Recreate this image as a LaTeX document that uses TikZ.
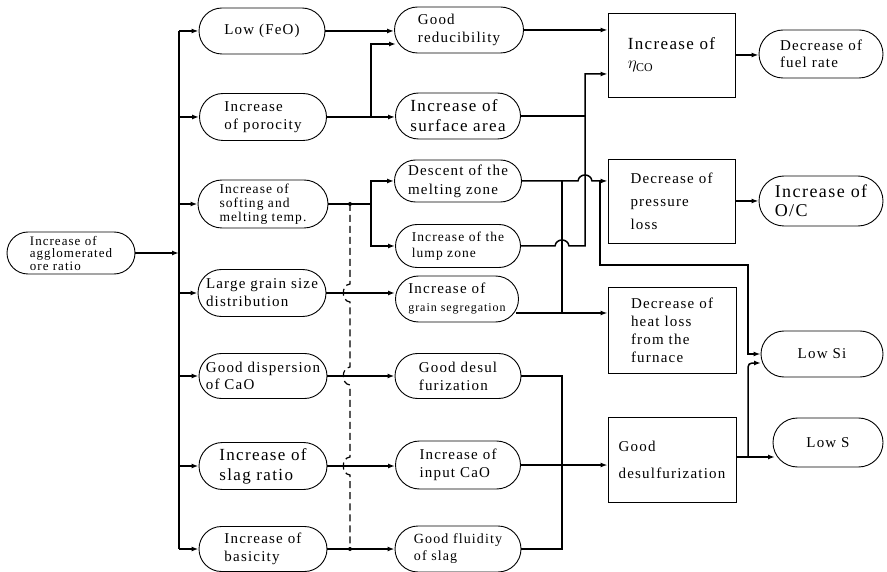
\documentclass[tikz,border=0pt]{standalone}
\usepackage{fontspec}
\setmainfont{Liberation Serif}[LetterSpace=8]
\usetikzlibrary{shapes.misc,arrows.meta}

\begin{document}
\begin{tikzpicture}[x=1pt,y=-1pt,
	pill/.style={draw,rounded rectangle,line width=0.9pt,align=left,inner sep=2pt},
	box/.style={draw,rectangle,line width=0.9pt,align=left,inner sep=2pt},
	link/.style={line width=1.5pt},
	arr/.style={link,-{Latex[length=7pt,width=5pt]}},
	bus/.style={line width=2.4pt},
	txtS/.style={font=\fontsize{13}{12.5}\selectfont},
	txtM/.style={font=\fontsize{15}{18}\selectfont},
	txtL/.style={font=\fontsize{17}{20}\selectfont}]
			\useasboundingbox (0,0) rectangle (887,572);
			\node[pill,txtS,minimum width=132pt,minimum height=42pt] (A) at (71,253) {Increase of\\agglomerated\\ore ratio};
			\node[pill,txtM,minimum width=130pt,minimum height=46pt] (B1) at (262,31) {Low (FeO)};
			\node[pill,txtM,minimum width=131pt,minimum height=47pt] (B2) at (263,117) {Increase\\of porocity};
			\node[pill,font=\fontsize{13.5}{14}\selectfont,minimum width=134pt,minimum height=48pt] (B3) at (263,204) {Increase of\\softing and\\melting temp.};
			\node[pill,txtM,minimum width=132pt,minimum height=47pt] (B4) at (262,293) {Large grain size\\distribution};
			\node[pill,font=\fontsize{15}{17}\selectfont,minimum width=132pt,minimum height=45pt] (B5) at (263,376) {Good dispersion\\of CaO};
			\node[pill,txtL,minimum width=132pt,minimum height=47pt] (B6) at (263,466) {Increase of\\slag ratio};
			\node[pill,txtM,minimum width=132pt,minimum height=45pt] (B7) at (263,549) {Increase of\\basicity};
			\node[pill,txtM,minimum width=133pt,minimum height=46pt] (C1) at (459,30) {Good\\reducibility};
			\node[pill,txtL,minimum width=129pt,minimum height=46pt] (C2) at (458,116) {Increase of\\surface area};
			\node[pill,font=\fontsize{15}{19}\selectfont,minimum width=131pt,minimum height=42pt] (C3) at (458,181) {Descent of the\\melting zone};
			\node[pill,font=\fontsize{13.5}{16}\selectfont,minimum width=129pt,minimum height=43pt] (C4) at (458,246) {Increase of the\\lump zone};
			\node[pill,font=\fontsize{12}{18}\selectfont,minimum width=127pt,minimum height=46pt] (C5) at (457,299) {{\fontsize{15}{18}\selectfont Increase of}\\grain segregation};
			\node[pill,txtM,minimum width=130pt,minimum height=45pt] (C6) at (458,376) {Good desul\\furization};
			\node[pill,txtM,minimum width=129pt,minimum height=48pt] (C7) at (458,465) {Increase of\\input CaO};
			\node[pill,font=\fontsize{14}{17}\selectfont,minimum width=130pt,minimum height=46pt] (C8) at (458,549) {Good fluidity\\of slag};
			\node[box,font=\fontsize{17}{19}\selectfont,minimum width=127pt,minimum height=84pt] (D1) at (671.5,55) {Increase of\\$\eta_{\mathrm{CO}}$};
			\node[box,font=\fontsize{15}{23}\selectfont,minimum width=127pt,minimum height=84pt] (D2) at (671.5,201) {Decrease of\\pressure\\loss};
			\node[box,txtM,minimum width=128pt,minimum height=86pt] (D3) at (672,330) {Decrease of\\heat loss\\from the\\furnace};
			\node[box,font=\fontsize{15}{27}\selectfont,minimum width=128pt,minimum height=85pt] (D4) at (672,459.5) {Good\\desulfurization};
			\node[pill,font=\fontsize{15}{17}\selectfont,minimum width=128pt,minimum height=48pt] (E1) at (821,54) {Decrease of\\fuel rate};
			\node[pill,font=\fontsize{18}{19}\selectfont,minimum width=128pt,minimum height=50pt] (E2) at (821,201) {Increase of\\O/C};
			\node[pill,txtM,minimum width=126pt,minimum height=46pt] (E3) at (822,354) {Low Si};
			\node[pill,txtM,minimum width=114pt,minimum height=49pt] (E4) at (828,442.5) {Low S};
			\coordinate (bus) at (179,0);
			\coordinate (x1) at (371,0);
			\coordinate (x2) at (350,0);
			\coordinate (x3) at (562,0);
			\coordinate (x4) at (585,0);
			\coordinate (x5) at (600,0);
			\coordinate (x6) at (748,0);
			\coordinate (k1) at (396,44);
			\coordinate (k2) at (585,74);
			\coordinate (k3) at (516,313);
			\coordinate (k4) at (600,265);
			\coordinate (k5) at (761,363);
			\coordinate (k6) at (775,457);
			\coordinate (k7) at (736,457);
			\draw[arr] (A.east) -- (A.east -| bus);
			\draw[bus] (bus |- B1) -- (bus |- B7);
			\draw[arr] (bus |- B1) -- (B1.west);
			\draw[arr] (bus |- B2) -- (B2.west);
			\draw[arr] (bus |- B3) -- (B3.west);
			\draw[arr] (bus |- B4) -- (B4.west);
			\draw[arr] (bus |- B5) -- (B5.west);
			\draw[arr] (bus |- B6) -- (B6.west);
			\draw[arr] (bus |- B7) -- (B7.west);
			\draw[arr] (B1.east) -- (B1.east -| C1.west);
			\draw[arr] (B2.east) -- (B2.east -| C2.west);
			\draw[arr] (x1 |- B2) |- (k1);
			\draw[arr] (B3.east) -- (x1 |- B3) |- (C3.west);
			\draw[arr] (x1 |- B3) |- (C4.west);
			\draw[arr] (B4.east) -- (B4.east -| C5.west);
			\draw[arr] (B5.east) -- (B5.east -| C6.west);
			\draw[arr] (B6.east) -- (B6.east -| C7.west);
			\draw[arr] (B7.east) -- (B7.east -| C8.west);
			\draw[line width=1.2pt,dash pattern=on 7pt off 4pt] (x2 |- B3) -- (350,284) .. controls (341,285) and (341,301) .. (350,302) -- (350,367) .. controls (341,368) and (341,384) .. (350,385) -- (350,457) .. controls (341,458) and (341,474) .. (350,475) -- (x2 |- B7);
			\fill (x2 |- B3) circle (2pt);
			\fill (x2 |- B7) circle (2pt);
			\draw[arr] (C1.east) -- (C1.east -| D1.west);
			\draw[link] (C2.east) -- (x4 |- C2);
			\draw[arr] (C4.east) -- (555,246) .. controls (556,238) and (568,238) .. (569,246) -- (x4 |- C4) -- (k2) -- (k2 -| D1.west);
			\draw[arr] (C3.east) -- (578,181) .. controls (579,173) and (591,173) .. (592,181) -- (C3.east -| D2.west);
			\draw[link] (x3 |- C3) -- (x3 |- k3);
			\draw[arr] (k3) -- (k3 -| D3.west);
			\draw[arr] (x5 |- C3) -- (k4) -| (x6 |- E3) -- (E3.west);
			\draw[link] (C6.east) -- (x3 |- C6) -- (x3 |- C8) -- (C8.east);
			\draw[arr] (C7.east) -- (C7.east -| D4.west);
			\draw[arr] (D1.east) -- (D1.east -| E1.west);
			\draw[arr] (D2.east) -- (D2.east -| E2.west);
			\draw[arr] (k7) -- (k6);
			\draw[arr,rounded corners=4pt] (x6 |- k7) -- (x6 |- k5) -- (k5);
		\end{tikzpicture}
\end{document}
